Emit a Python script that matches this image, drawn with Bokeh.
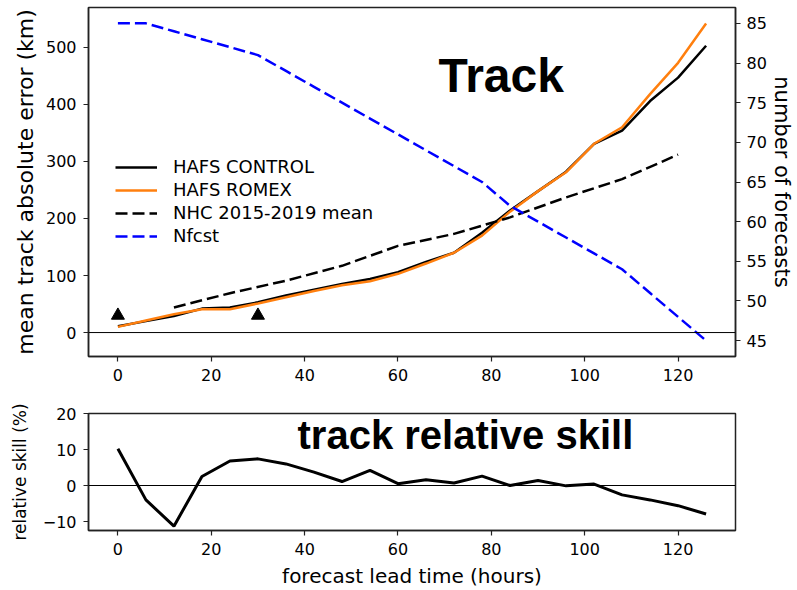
from bokeh.plotting import figure
from bokeh.models import Range1d, LinearAxis, Span, Legend, LegendItem, Label, FixedTicker
from bokeh.layouts import column
from bokeh.embed import file_html
from bokeh.resources import INLINE

# ---------------- data ----------------
hours = [0, 6, 12, 18, 24, 30, 36, 42, 48, 54, 60, 66, 72, 78, 84, 90, 96, 102, 108, 114, 120, 126]
hafs_control = [11, 20, 29, 42, 44, 53, 65, 75, 85, 94, 106, 124, 140, 175, 214, 248, 282, 331, 354, 406, 447, 503]
hafs_romex = [10, 21, 32, 41, 41, 51, 62, 73, 83, 90, 103, 121, 140, 170, 212, 248, 281, 331, 360, 418, 473, 542]
nhc_hours = [12, 24, 36, 48, 60, 72, 84, 96, 108, 120]
nhc_mean = [44, 69, 91, 117, 152, 173, 202, 237, 269, 312]
nfcst = [85, 85, 84, 83, 82, 81, 79, 77, 75, 73, 71, 69, 67, 65, 62, 60, 58, 56, 54, 51, 48, 45]
marker_hours = [0, 30]
marker_values = [30, 30]
skill = [10.2, -4.0, -11.3, 2.5, 6.8, 7.4, 6.0, 3.7, 1.1, 4.2, 0.5, 1.6, 0.7, 2.6, 0.0, 1.4, -0.1, 0.4, -2.6, -4.0, -5.6, -7.9]

x_ticks = [0, 20, 40, 60, 80, 100, 120]
err_ticks = [0, 100, 200, 300, 400, 500]
n_ticks = [45, 50, 55, 60, 65, 70, 75, 80, 85]
skill_ticks = [-10, 0, 10, 20]

FONT = "DejaVu Sans"
ORANGE = "#ff7f0e"
DASH = "12 5"


def style_axis(ax, tick_size="16px", label_size="20px", label_standoff=8, tick_standoff=7):
    ax.axis_line_color = "#222222"
    ax.axis_line_width = 1.5
    ax.major_tick_line_color = "#222222"
    ax.major_tick_line_width = 1.2
    ax.major_tick_out = 5
    ax.major_tick_in = 0
    ax.minor_tick_line_color = None
    ax.major_label_text_font = FONT
    ax.major_label_text_font_size = tick_size
    ax.major_label_text_color = "black"
    ax.major_label_standoff = tick_standoff
    ax.axis_label_text_font = FONT
    ax.axis_label_text_font_size = label_size
    ax.axis_label_text_font_style = "normal"
    ax.axis_label_text_color = "black"
    ax.axis_label_standoff = label_standoff


# ---------------- top panel ----------------
p1 = figure(width=797, height=395, x_range=Range1d(-6.3, 132.3), y_range=Range1d(-42, 570),
            output_backend="svg", toolbar_location=None,
            min_border_left=88, min_border_right=62, min_border_top=7, min_border_bottom=39)
p1.extra_y_ranges = {"n": Range1d(43, 87)}
p1.xgrid.visible = False
p1.ygrid.visible = False
p1.outline_line_color = "#222222"
p1.outline_line_width = 1.5
p1.xaxis.ticker = FixedTicker(ticks=x_ticks)
p1.yaxis.ticker = FixedTicker(ticks=err_ticks)
p1.yaxis.axis_label = "mean track absolute error (km)"
style_axis(p1.xaxis[0])
style_axis(p1.yaxis[0], label_size="22px", label_standoff=5)

right = LinearAxis(y_range_name="n", axis_label="number of forecasts", ticker=FixedTicker(ticks=n_ticks))
style_axis(right, label_size="21px", label_standoff=0, tick_standoff=6)
p1.add_layout(right, "right")

p1.add_layout(Span(location=0, dimension="width", line_color="black", line_width=1))

r_ctrl = p1.line(hours, hafs_control, line_color="black", line_width=2.5)
r_rom = p1.line(hours, hafs_romex, line_color=ORANGE, line_width=2.5)
r_nhc = p1.line(nhc_hours, nhc_mean, line_color="black", line_width=2.5, line_dash=DASH)
r_n = p1.line(hours, nfcst, y_range_name="n", line_color="blue", line_width=2.5, line_dash=DASH)
p1.scatter(marker_hours, marker_values, marker="triangle", size=13, color="black")

legend = Legend(items=[
    LegendItem(label="HAFS CONTROL", renderers=[r_ctrl]),
    LegendItem(label="HAFS ROMEX", renderers=[r_rom]),
    LegendItem(label="NHC 2015-2019 mean", renderers=[r_nhc]),
    LegendItem(label="Nfcst", renderers=[r_n]),
], location=(27, 110))
legend.border_line_color = None
legend.background_fill_alpha = 0
legend.padding = 0
legend.margin = 0
legend.spacing = 2
legend.glyph_width = 42
legend.glyph_height = 20
legend.label_height = 20
legend.label_standoff = 16
legend.label_text_font = FONT
legend.label_text_font_size = "18px"
legend.label_text_color = "black"
p1.add_layout(legend)

p1.add_layout(Label(x=350, y=281, x_units="screen", y_units="screen", text="Track",
                    text_font="Liberation Sans", text_font_style="bold", text_font_size="48px",
                    text_baseline="alphabetic", text_color="black"))

# ---------------- bottom panel ----------------
p2 = figure(width=797, height=195, x_range=Range1d(-6.3, 132.3), y_range=Range1d(-12.5, 20),
            output_backend="svg", toolbar_location=None,
            min_border_left=88, min_border_right=62, min_border_top=18, min_border_bottom=60)
p2.xgrid.visible = False
p2.ygrid.visible = False
p2.outline_line_color = "#222222"
p2.outline_line_width = 1.5
p2.xaxis.ticker = FixedTicker(ticks=x_ticks)
p2.yaxis.ticker = FixedTicker(ticks=skill_ticks)
p2.yaxis.major_label_overrides = {-10: "\u221210"}
p2.xaxis.axis_label = "forecast lead time (hours)"
p2.yaxis.axis_label = "relative skill (%)"
style_axis(p2.xaxis[0], label_size="20px", label_standoff=6)
style_axis(p2.yaxis[0], label_size="17px", label_standoff=10)

p2.add_layout(Span(location=0, dimension="width", line_color="black", line_width=1))
p2.line(hours, skill, line_color="black", line_width=3)

p2.add_layout(Label(x=209, y=96, x_units="screen", y_units="screen", text="track relative skill",
                    text_font="Liberation Sans", text_font_style="bold", text_font_size="40px",
                    text_baseline="alphabetic", text_color="black"))

layout = column(p1, p2, spacing=0)
open("out.html", "w").write(file_html(layout, INLINE))
